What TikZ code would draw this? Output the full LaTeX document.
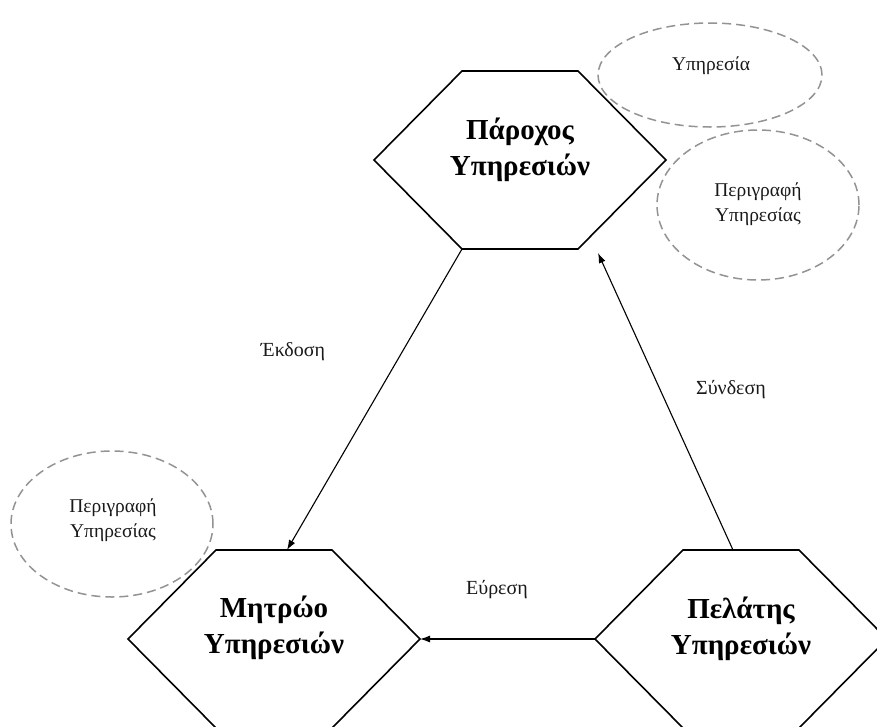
\documentclass[tikz,border=0pt]{standalone}
\usepackage{fontspec}
\setmainfont{Liberation Serif}
\usetikzlibrary{arrows.meta,shapes.geometric}

\tikzset{
  hexline/.style={draw=black, line width=1.6pt, line join=miter},
  hextext/.style={font=\fontsize{29}{36}\selectfont\bfseries, align=center, inner sep=0pt},
  note/.style={draw=gray!85, dashed, dash pattern=on 9pt off 5pt, line width=1.5pt, ellipse, inner sep=0pt},
  notetext/.style={font=\fontsize{19.5}{25.5}\selectfont, align=center, inner sep=0pt, text=black!90},
  edgetext/.style={font=\fontsize{20}{22}\selectfont, inner sep=0pt, text=black!90},
  link/.style={line width=1.1pt, -{Latex[length=10pt,width=7pt]}},
  pics/hexa/.style={code={
    \draw[hexline] (-146,0) -- (-58,-89) -- (58,-89) -- (146,0) -- (58,89) -- (-58,89) -- cycle;
    \coordinate (-l)  at (-146,0);
    \coordinate (-r)  at (146,0);
    \coordinate (-tl) at (-58,-89);
    \coordinate (-tr) at (58,-89);
    \coordinate (-bl) at (-58,89);
    \coordinate (-br) at (58,89);
  }}
}

\begin{document}
\begin{tikzpicture}[x=1pt, y=-1pt]
  \useasboundingbox (0,0) rectangle (877,726);

  % the three actors
  \pic (prov) at (520,160) {hexa};
  \node[hextext] (provtext) at (520,150) {Πάροχος\\Υπηρεσιών};

  \pic (reg) at (274,639) {hexa};
  \node[hextext] (regtext) at (274,628) {Μητρώο\\Υπηρεσιών};

  \pic (cli) at (741,639) {hexa};
  \node[hextext] (clitext) at (741,629) {Πελάτης\\Υπηρεσιών};

  % descriptions attached to the actors
  \node[note, minimum width=224pt, minimum height=104pt] (svc) at (710,75) {};
  \node[notetext] (svctext) at (711,66) {Υπηρεσία};

  \node[note, minimum width=202pt, minimum height=150pt] (desc1) at (758,205) {};
  \node[notetext] (desc1text) at (758,204) {Περιγραφή\\Υπηρεσίας};

  \node[note, minimum width=202pt, minimum height=146pt] (desc2) at (112,524) {};
  \node[notetext] (desc2text) at (113,520) {Περιγραφή\\Υπηρεσίας};

  % interactions
  \coordinate (regin) at (287,550);
  \coordinate (provin) at (598,253);
  \coordinate (cliout) at (733,550);

  \draw[link] (prov-bl) -- (regin);
  \draw[link] (cliout) -- (provin);
  \draw[link] (cli-l) -- (reg-r);

  \node[edgetext] (publish) at (293,352) {Έκδοση};
  \node[edgetext] (bind) at (731,390) {Σύνδεση};
  \node[edgetext] (find) at (497,590) {Εύρεση};
\end{tikzpicture}
\end{document}
